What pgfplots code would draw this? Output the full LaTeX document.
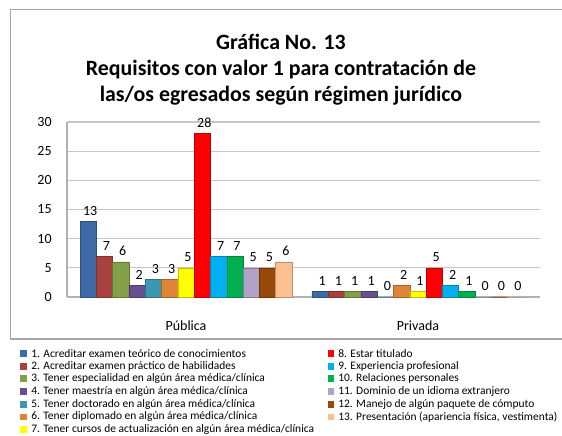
\documentclass[border=0pt]{standalone}
\usepackage{fontspec}
\setmainfont{Carlito}
\usepackage{pgfplots}
\pgfplotsset{compat=1.18}

\definecolor{c1}{HTML}{3E6BA6}
\definecolor{c2}{HTML}{A8423F}
\definecolor{c3}{HTML}{82A048}
\definecolor{c4}{HTML}{6A5090}
\definecolor{c5}{HTML}{3A98B2}
\definecolor{c6}{HTML}{DF8538}
\definecolor{c7}{HTML}{FFFF00}
\definecolor{c8}{HTML}{FF0000}
\definecolor{c9}{HTML}{00B0F0}
\definecolor{c10}{HTML}{00B050}
\definecolor{c11}{HTML}{B3A2C7}
\definecolor{c12}{HTML}{984807}
\definecolor{c13}{HTML}{FAC090}

\begin{document}
\begin{tikzpicture}
\useasboundingbox (0,0) rectangle (421.5pt,327pt);
% frame
\draw[gray!70, line width=1pt] (430pt,319.9pt) -- (7.9pt,319.9pt) -- (7.9pt,72.75pt) -- (430pt,72.75pt);
% title
\node[align=center, font=\bfseries\fontsize{16.4}{19.5}\selectfont] at (210.75pt,274.5pt)
  {Gráfica No. 13\\Requisitos con valor 1 para contratación de\\las/os egresados según régimen jurídico};

\begin{axis}[
  at={(50.25pt,104.25pt)}, anchor=south west,
  scale only axis, width=354.75pt, height=131.25pt,
  ymin=0, ymax=30, ytick={0,5,...,30},
  xmin=-0.513, xmax=1.526, xtick={0,1}, xticklabels={Pública,Privada},
  ybar=0pt, bar width=0.0703,
  ymajorgrids, grid style={gray!45, line width=0.8pt},
  axis lines*=left, axis line style={gray!60, line width=0.8pt, -},
  tick style={draw=none},
  ticklabel style={font=\fontsize{10.5}{12}\selectfont},
  /pgf/number format/assume math mode=true,
  yticklabel style={xshift=-8pt},
  xticklabel style={yshift=-10pt},
  nodes near coords,
  every node near coord/.append style={font=\fontsize{10.5}{12}\selectfont, text=black, yshift=1pt, xshift=1.5pt},
  clip=false,
]
\addplot[fill=c1, draw=c1!75!black] coordinates {(0,13) (1,1)};
\addplot[fill=c2, draw=c2!75!black] coordinates {(0,7) (1,1)};
\addplot[fill=c3, draw=c3!75!black] coordinates {(0,6) (1,1)};
\addplot[fill=c4, draw=c4!75!black] coordinates {(0,2) (1,1)};
\addplot[fill=c5, draw=c5!75!black] coordinates {(0,3) (1,0)};
\addplot[fill=c6, draw=c6!75!black] coordinates {(0,3) (1,2)};
\addplot[fill=c7, draw=c7!75!black] coordinates {(0,5) (1,1)};
\addplot[fill=c8, draw=c8!75!black] coordinates {(0,28) (1,5)};
\addplot[fill=c9, draw=c9!75!black] coordinates {(0,7) (1,2)};
\addplot[fill=c10, draw=c10!75!black] coordinates {(0,7) (1,1)};
\addplot[fill=c11, draw=c11!75!black] coordinates {(0,5) (1,0)};
\addplot[fill=c12, draw=c12!75!black] coordinates {(0,5) (1,0)};
\addplot[fill=c13, draw=c13!75!black] coordinates {(0,6) (1,0)};
\end{axis}

% legend
\foreach \c/\t [count=\i from 0] in {
  c1/{1. Acreditar examen teórico de conocimientos},
  c2/{2. Acreditar examen práctico de habilidades},
  c3/{3. Tener especialidad en algún área médica/clínica},
  c4/{4. Tener maestría en algún área médica/clínica},
  c5/{5. Tener doctorado en algún área médica/clínica},
  c6/{6. Tener diplomado en algún área médica/clínica},
  c7/{7. Tener cursos de actualización en algún área médica/clínica}} {
  \fill[\c] ({17.6pt-2.6pt},{(436-353.5-12.7*\i)*0.75pt-2.6pt}) rectangle ++(5.2pt,5.2pt);
  \node[anchor=west, inner sep=0pt, font=\fontsize{8.6}{9.6}\selectfont] at (23.25pt,{(436-353.5-12.7*\i)*0.75pt}) {\t};
}
\foreach \c/\t [count=\i from 0] in {
  c8/{8. Estar titulado},
  c9/{9. Experiencia profesional},
  c10/{10. Relaciones personales},
  c11/{11. Dominio de un idioma extranjero},
  c12/{12. Manejo de algún paquete de cómputo},
  c13/{13. Presentación (apariencia física, vestimenta)}} {
  \fill[\c] ({248.25pt-2.6pt},{(436-353.5-12.7*\i)*0.75pt-2.6pt}) rectangle ++(5.2pt,5.2pt);
  \node[anchor=west, inner sep=0pt, font=\fontsize{8.6}{9.6}\selectfont] at (253.5pt,{(436-353.5-12.7*\i)*0.75pt}) {\t};
}
\end{tikzpicture}
\end{document}
